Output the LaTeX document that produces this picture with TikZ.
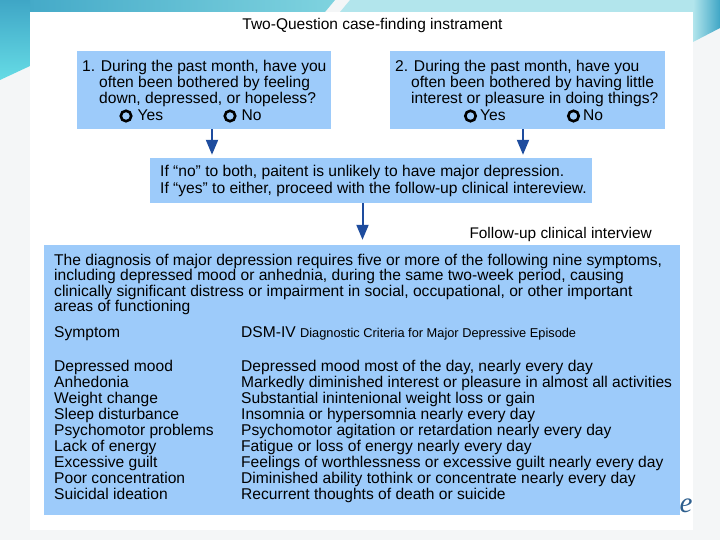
\documentclass[tikz,border=0pt]{standalone}
\usepackage{fontspec}
\setmainfont{Liberation Sans}
\newfontfamily\eserif{Liberation Serif}
\usetikzlibrary{arrows.meta}
\definecolor{boxblue}{HTML}{9DCBFA}
\definecolor{arrblue}{HTML}{1E4C9E}
\definecolor{bgc}{HTML}{F4F6F7}
\definecolor{tealdark}{HTML}{3FA6C6}
\definecolor{teallight}{HTML}{7FD3DF}
\definecolor{cyanlight}{HTML}{B2E5EC}
\definecolor{ecol}{HTML}{2E5F8E}
\tikzset{
  bluebox/.style={fill=boxblue, draw=none, inner sep=0pt, rectangle},
  txt/.style={anchor=base west, inner sep=0pt, font=\fontsize{15.6}{16}\selectfont},
  arr/.style={draw=arrblue, line width=2pt, -{Triangle[length=15pt,width=12pt]}},
  ring/.style={draw=black, line width=2.6pt, circle, inner sep=0pt, minimum size=10.5pt}
}
\begin{document}
\begin{tikzpicture}[x=1pt,y=-1pt]
\useasboundingbox (0,0) rectangle (720,540);
% background
\fill[bgc] (0,0) rectangle (720,540);
\shade[left color=tealdark, right color=teallight] (0,0) -- (335,0) -- (325,12) -- (0,12) -- cycle;
\fill[cyanlight] (350,0) -- (720,0) -- (720,12) -- (340,12) -- cycle;
\shade[top color=tealdark, bottom color=teallight!80!cyan] (0,0) -- (30,0) -- (30,66) -- (0,80) -- cycle;
\shade[left color=cyanlight, right color=tealdark] (693,0) -- (720,0) -- (720,28) -- (693,42) -- cycle;
\fill[white] (30,12) rectangle (693,530);
% title
\node[anchor=base, inner sep=0pt, font=\fontsize{15.5}{16}\selectfont] (title) at (372.5,30) {Two-Question case-finding instrament};
% box 1
\node[bluebox, minimum width=254pt, minimum height=78pt] (box1) at (204,90) {};
\node[txt] (q1a) at (82,72) {1. During the past month, have you};
\node[txt] (q1b) at (99,88) {often been bothered by feeling};
\node[txt] (q1c) at (99,104) {down, depressed, or hopeless?};
\node[ring] (r1y) at (126,116) {};
\node[txt] (t1y) at (137.5,121) {Yes};
\node[ring] (r1n) at (230,116) {};
\node[txt] (t1n) at (241.5,121) {No};
% box 2
\node[bluebox, minimum width=275pt, minimum height=78pt] (box2) at (527.5,90) {};
\node[txt] (q2a) at (395,72) {2. During the past month, have you};
\node[txt] (q2b) at (411,88) {often been bothered by having little};
\node[txt] (q2c) at (411,104) {interest or pleasure in doing things?};
\node[ring] (r2y) at (470.5,116) {};
\node[txt] (t2y) at (480,121) {Yes};
\node[ring] (r2n) at (573.5,116) {};
\node[txt] (t2n) at (583,121) {No};
% box 3
\node[bluebox, minimum width=442pt, minimum height=45pt] (box3) at (371,180.5) {};
\node[txt] (c1) at (160,177) {If “no” to both, paitent is unlikely to have major depression.};
\node[txt] (c2) at (160,194) {If “yes” to either, proceed with the follow-up clinical intereview.};
% follow-up label
\node[anchor=base east, inner sep=0pt, font=\fontsize{15.4}{16}\selectfont] (fu) at (652,239) {Follow-up clinical interview};
% box 4
\node[bluebox, minimum width=636pt, minimum height=270pt] (box4) at (362,380) {};
\node[txt] (p1) at (54,265) {The diagnosis of major depression requires five or more of the following nine symptoms,};
\node[txt] (p2) at (54,280.5) {including depressed mood or anhednia, during the same two-week period, causing};
\node[txt] (p3) at (54,296) {clinically significant distress or impairment in social, occupational, or other important};
\node[txt] (p4) at (54,311.5) {areas of functioning};
\node[txt] (hs) at (54,337.5) {Symptom};
\node[txt] (hd) at (241,337.5) {DSM-IV {\fontsize{12.8}{15}\selectfont Diagnostic Criteria for Major Depressive Episode}};
\foreach \i/\s/\d in {
  0/Depressed mood/{Depressed mood most of the day, nearly every day},
  1/Anhedonia/{Markedly diminished interest or pleasure in almost all activities},
  2/Weight change/{Substantial inintenional weight loss or gain},
  3/Sleep disturbance/{Insomnia or hypersomnia nearly every day},
  4/Psychomotor problems/{Psychomotor agitation or retardation nearly every day},
  5/Lack of energy/{Fatigue or loss of energy nearly every day},
  6/Excessive guilt/{Feelings of worthlessness or excessive guilt nearly every day},
  7/Poor concentration/{Diminished ability tothink or concentrate nearly every day},
  8/Suicidal ideation/{Recurrent thoughts of death or suicide}}{
  \node[txt] (s\i) at (54,{371+16.1*\i}) {\s};
  \node[txt] (d\i) at (241,{371+16.1*\i}) {\d};
}
% arrows
\draw[arr, shorten >=3pt] ([xshift=8pt]box1.south) -- ([xshift=8pt]box1.south |- box3.north);
\draw[arr, shorten >=3pt] ([xshift=-4.5pt]box2.south) -- ([xshift=-4.5pt]box2.south |- box3.north);
\draw[arr, shorten >=5pt] ([xshift=-8.5pt]box3.south) -- ([xshift=-8.5pt]box3.south |- box4.north);
% e mark
\node[anchor=base, inner sep=0pt, text=ecol, font=\eserif\itshape\fontsize{29}{29}\selectfont] (emark) at (686,512) {e};
\end{tikzpicture}
\end{document}
